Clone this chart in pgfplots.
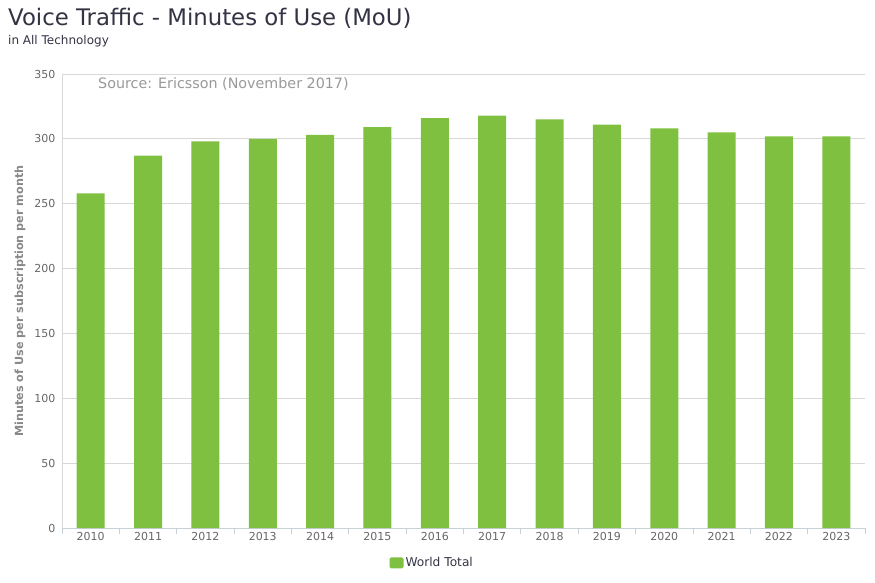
\documentclass[border=0pt]{standalone}
\usepackage{fontspec}
\setmainfont{DejaVu Sans}
\usepackage{pgfplots}
\pgfplotsset{compat=1.18}
\definecolor{barGreen}{RGB}{128,192,64}
\definecolor{gridGray}{RGB}{216,216,216}
\definecolor{axisGray}{RGB}{200,208,216}
\definecolor{tickGray}{RGB}{102,102,102}
\definecolor{labelGray}{RGB}{136,136,136}
\definecolor{srcGray}{RGB}{153,153,153}
\definecolor{titleCol}{RGB}{51,51,68}
\begin{document}
\begin{tikzpicture}[x=1pt,y=1pt]
\path[use as bounding box] (0,0) rectangle (875,582);
\node[anchor=base west, font=\fontsize{22.8}{26}\selectfont, text=titleCol, inner sep=0pt] at (8,556) {Voice Traffic - Minutes of Use (MoU)};
\node[anchor=base west, font=\fontsize{12}{14}\selectfont, text=titleCol, inner sep=0pt] at (8,537) {in All Technology};
\begin{axis}[
  at={(62pt,54pt)}, anchor=south west,
  scale only axis, width=803pt, height=454pt,
  xmin=-0.5, xmax=13.5, ymin=0, ymax=350,
  ytick={0,50,...,350},
  xtick={0,...,13},
  xticklabels={2010,2011,2012,2013,2014,2015,2016,2017,2018,2019,2020,2021,2022,2023},
  minor xtick={-0.5,0.5,...,13.5},
  tick align=outside,
  major tick length=0pt,
  minor tick length=6pt,
  minor x tick style={axisGray, line width=0.8pt},
  axis x line*=bottom, axis y line*=left,
  x axis line style={axisGray, line width=1pt},
  y axis line style={gridGray, line width=0.8pt},
  ymajorgrids,
  grid style={gridGray, line width=0.8pt},
  /pgf/number format/assume math mode=true,
  ticklabel style={font=\fontsize{11}{13}\selectfont, text=tickGray},
  yticklabel style={xshift=-3pt},
  xticklabel style={yshift=-1pt},
  ylabel={Minutes of Use per subscription per month},
  ylabel style={at={(axis description cs:-0.0523,0.5)}, anchor=center, font=\bfseries\fontsize{11.2}{13}\selectfont, text=labelGray},
  legend style={at={(0.461,-0.077)}, anchor=center, draw=none, fill=none, font=\fontsize{12.2}{14}\selectfont, text=titleCol},
  legend image code/.code={\fill[barGreen, rounded corners=1.5pt] (0pt,-5.5pt) rectangle (14pt,5.5pt);},
]
\addplot[ybar, bar width=28pt, fill=barGreen, draw=none] coordinates {
(0,258) (1,287) (2,298) (3,300) (4,303) (5,309) (6,316) (7,318) (8,315) (9,311) (10,308) (11,305) (12,302) (13,302)};
\addlegendentry{World Total}
\node[anchor=west, font=\fontsize{14.3}{16}\selectfont, text=srcGray, inner sep=0pt] at (rel axis cs:0.0448,0.978) {Source: Ericsson (November 2017)};
\end{axis}
\end{tikzpicture}
\end{document}
